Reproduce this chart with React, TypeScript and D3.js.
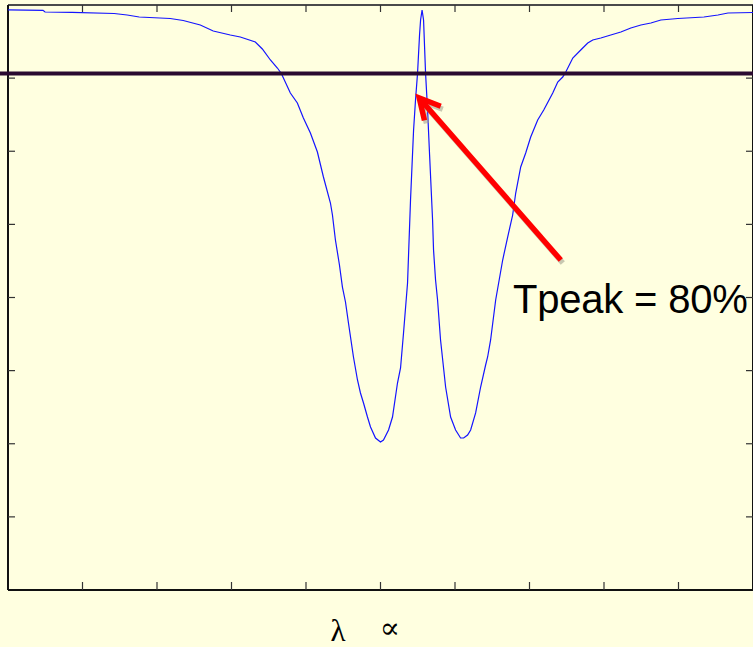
import React from "react";
import * as d3 from "d3";

// Transmission spectrum of the filter: detuning (arb. units) vs transmission (%)
const detuning = [
  0.0, 0.47, 0.497, 0.86, 1.425, 1.599, 1.761, 2.177, 2.352, 2.581, 2.755, 2.984,
  3.118, 3.32, 3.414, 3.522, 3.616, 3.669, 3.79, 3.884, 3.965, 4.059, 4.153, 4.234,
  4.328, 4.355, 4.395, 4.449, 4.489, 4.53, 4.57, 4.637, 4.691, 4.731, 4.772, 4.825,
  4.866, 4.933, 5.0, 5.04, 5.108, 5.161, 5.228, 5.269, 5.309, 5.363, 5.403, 5.444,
  5.47, 5.497, 5.524, 5.538, 5.558, 5.578, 5.605, 5.632, 5.659, 5.699, 5.712, 5.739,
  5.766, 5.806, 5.874, 5.941, 6.008, 6.075, 6.116, 6.169, 6.21, 6.277, 6.344, 6.411,
  6.438, 6.478, 6.546, 6.64, 6.707, 6.774, 6.815, 6.882, 6.949, 7.016, 7.11, 7.191,
  7.312, 7.379, 7.446, 7.487, 7.581, 7.688, 7.782, 7.849, 7.957, 8.091, 8.226, 8.36,
  8.495, 8.629, 8.763, 8.992, 9.341, 9.53, 9.664, 10.0,
];
const transmission = [
  99.15, 99.09, 98.8, 98.73, 98.55, 98.29, 97.95, 97.69, 97.35, 96.58, 95.56, 94.87,
  94.53, 93.68, 92.48, 90.6, 89.23, 88.29, 84.96, 83.25, 80.68, 78.12, 74.87, 70.6,
  66.15, 64.1, 59.83, 55.56, 51.79, 49.23, 45.64, 39.83, 35.9, 33.68, 31.97, 29.57,
  27.86, 25.98, 25.3, 25.64, 27.35, 29.57, 35.38, 37.95, 43.93, 52.48, 66.67, 78.63,
  83.76, 88.29, 94.87, 97.44, 99.15, 97.44, 88.29, 82.05, 74.36, 63.25, 58.12, 52.99,
  49.57, 42.74, 34.7, 29.57, 27.35, 25.98, 25.98, 26.5, 27.35, 30.26, 34.7, 38.46,
  39.83, 42.74, 49.57, 56.41, 60.34, 64.1, 67.86, 72.31, 74.7, 77.44, 80.34, 82.05,
  84.96, 86.84, 87.69, 88.55, 90.94, 92.31, 93.5, 94.02, 94.36, 94.87, 95.38, 96.07,
  96.58, 96.92, 97.44, 97.69, 97.95, 98.29, 98.63, 98.72,
];

const xTicks = [0, 1, 2, 3, 4, 5, 6, 7, 8, 9, 10];
const yTicks = [0, 12.5, 25, 37.5, 50, 62.5, 75, 87.5, 100];
const referenceLevel = 88.3;
const arrowTip = [5.52, 84.1];
const arrowTail = [7.42, 56.4];
const annotation = "Tpeak = 80%";
const axisSymbols = ["λ", "∝"];

const W = 753;
const H = 647;
const BG = "#ffffe0";

export default function App() {
  const x = d3.scaleLinear().domain([0, 10]).range([8, 753]);
  const y = d3.scaleLinear().domain([0, 100]).range([590, 5]);

  const pts: [number, number][] = detuning.map((d, i) => [d, transmission[i]]);
  const line = d3
    .line<[number, number]>()
    .x((d) => x(d[0]))
    .y((d) => y(d[1]))
    .curve(d3.curveLinear);

  const [x0, x1] = x.range();
  const [yb, yt] = y.range();

  // arrow geometry
  const tx = x(arrowTip[0]);
  const ty = y(arrowTip[1]);
  const sx = x(arrowTail[0]);
  const sy = y(arrowTail[1]);
  const ang = Math.atan2(sy - ty, sx - tx);
  const wing = 23;
  const spread = (28 * Math.PI) / 180;
  const w1 = [tx + wing * Math.cos(ang - spread), ty + wing * Math.sin(ang - spread)];
  const w2 = [tx + wing * Math.cos(ang + spread), ty + wing * Math.sin(ang + spread)];
  const head = `M${w1[0]},${w1[1]} L${tx},${ty} L${w2[0]},${w2[1]}`;
  const shaft = `M${sx},${sy} L${tx + 3 * Math.cos(ang)},${ty + 3 * Math.sin(ang)}`;

  return (
    <svg
      width={W}
      height={H}
      style={{ position: "absolute", left: 0, top: 0, display: "block" }}
    >
      <rect x={0} y={0} width={W} height={H} fill={BG} />

      {/* frame */}
      <line x1={x0} x2={x1} y1={yt} y2={yt} stroke="#4a4a4a" strokeWidth={2} />
      <line x1={x0} x2={x1} y1={yb} y2={yb} stroke="#111" strokeWidth={2} />
      <line x1={x0} x2={x0} y1={yt} y2={yb} stroke="#111" strokeWidth={2} />
      <line x1={x1} x2={x1} y1={yt} y2={yb} stroke="#111" strokeWidth={2} />

      {/* ticks */}
      {xTicks.slice(1, -1).map((t) => (
        <g key={"xt" + t}>
          <line x1={x(t)} x2={x(t)} y1={yt} y2={yt + 7} stroke="#333" strokeWidth={1.2} />
          <line x1={x(t)} x2={x(t)} y1={yb} y2={yb - 8} stroke="#333" strokeWidth={1.2} />
        </g>
      ))}
      {yTicks.slice(1, -1).map((t) => (
        <g key={"yt" + t}>
          <line x1={x0} x2={x0 + 7} y1={y(t)} y2={y(t)} stroke="#333" strokeWidth={1.2} />
          <line x1={x1} x2={x1 - 7} y1={y(t)} y2={y(t)} stroke="#333" strokeWidth={1.2} />
        </g>
      ))}

      {/* spectrum */}
      <path d={line(pts) || ""} fill="none" stroke="#1414ff" strokeWidth={1.2} />

      {/* reference level */}
      <line
        x1={0}
        x2={W}
        y1={y(referenceLevel)}
        y2={y(referenceLevel)}
        stroke="#2a0a30"
        strokeWidth={4}
      />

      {/* arrow with soft shadow */}
      <g transform="translate(2,3)" stroke="#9a9a8a" strokeOpacity={0.55} fill="none" strokeWidth={5.5}>
        <path d={shaft} />
        <path d={head} strokeLinejoin="miter" />
      </g>
      <g stroke="#ff0000" fill="none" strokeWidth={5.5}>
        <path d={shaft} />
        <path d={head} strokeLinejoin="miter" />
      </g>

      <text
        x={513}
        y={313}
        fontFamily="'Liberation Sans', Arial, sans-serif"
        fontSize={40}
        fill="#000"
        letterSpacing={-0.2}
      >
        {annotation}
      </text>

      <text
        x={338}
        y={641}
        textAnchor="middle"
        fontFamily="'Liberation Serif', 'DejaVu Serif', serif"
        fontSize={31}
        fill="#000"
      >
        {axisSymbols[0]}
      </text>
      <text
        x={390}
        y={638}
        textAnchor="middle"
        fontFamily="'Liberation Serif', 'DejaVu Serif', serif"
        fontSize={30}
        fill="#000"
      >
        {axisSymbols[1]}
      </text>
    </svg>
  );
}
